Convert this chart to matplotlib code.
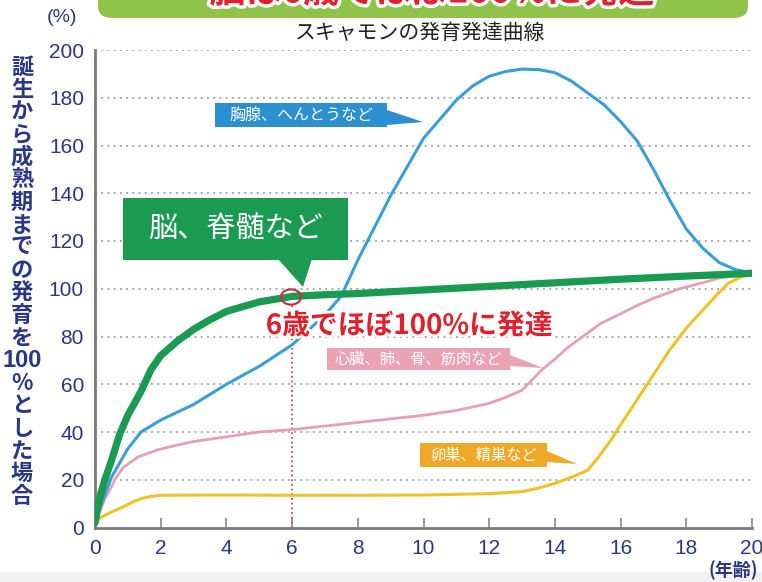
import matplotlib
matplotlib.use("Agg")
import matplotlib.pyplot as plt
from matplotlib import patches
import matplotlib.patheffects as pe

JP = ["Noto Sans CJK JP", "DejaVu Sans"]
NUM = ["Liberation Sans Narrow", "Liberation Sans", "DejaVu Sans"]
plt.rcParams["font.family"] = JP

# ---- data ----
brain_x = [0, 0.15, 0.3, 0.5, 0.75, 1, 1.4, 1.7, 2, 2.5, 3, 3.5, 4, 5, 6, 7, 8, 10, 12, 14, 16, 18, 20]
brain_y = [2, 13, 20, 28, 39, 47, 57, 66, 72, 78, 83, 87, 90.5, 94.5, 96.8, 97.5, 98, 99.5, 101, 102.5, 104, 105.3, 106.5]

thymus_x = [0, 0.2, 0.5, 1, 1.4, 2, 3, 4, 5, 6, 7, 7.5, 8, 9, 10, 11, 11.5, 12, 12.5, 13, 13.5,
            14, 14.5, 15, 15.5, 16, 16.5, 17, 17.5, 18, 18.5, 19, 19.5, 20]
thymus_y = [2, 10, 21, 33, 40, 45, 51.5, 60, 67.5, 76.5, 89, 97, 112, 139, 163, 179, 185, 189, 191, 192, 191.8,
            190.5, 187, 182, 177, 170, 162, 150, 137, 125, 117, 111, 108, 106.5]

general_x = [0, 0.15, 0.3, 0.5, 0.6, 0.85, 1.1, 1.3, 1.6, 1.9, 2.5, 3, 4, 5, 6, 7, 8, 9, 10, 11, 12, 12.5,
             13, 13.6, 14, 14.4, 15, 15.4, 16, 16.5, 17, 17.8, 18.5, 19, 20]
general_y = [2, 7, 12, 17, 20, 25, 27.5, 29.5, 31, 32.5, 34.5, 36, 38, 40, 41, 42.5, 44, 45.5, 47, 49, 52, 54.5,
             57.5, 66, 70.5, 75.5, 81.5, 85.5, 89.5, 93, 96, 100, 102.5, 104.5, 106.5]

repro_x = [0, 0.15, 0.5, 0.85, 1.2, 1.46, 1.7, 2, 4, 6, 8, 10, 12, 13, 13.5, 14, 14.5, 15, 15.3, 15.7,
           16, 16.5, 17, 17.5, 18, 18.5, 19, 19.3, 19.6, 20]
repro_y = [2, 4, 6.5, 8.6, 11, 12.3, 13, 13.5, 13.6, 13.5, 13.5, 13.6, 14.2, 15, 16.5, 18.5, 21, 24, 29, 36.5,
           43, 53.5, 64, 74.5, 83.5, 91, 98.5, 102.5, 104.5, 106.5]

x_ticks = [0, 2, 4, 6, 8, 10, 12, 14, 16, 18, 20]
y_ticks = [0, 20, 40, 60, 80, 100, 120, 140, 160, 180, 200]

title = "スキャモンの発育発達曲線"
banner = "脳は6歳でほぼ100%に発達"
ylabel_chars = ["誕", "生", "か", "ら", "成", "熟", "期", "ま", "で", "の", "発", "育", "を",
                "100", "%", "と", "し", "た", "場", "合"]

W, H = 762, 582
fig = plt.figure(figsize=(W / 100, H / 100), dpi=100)
fig.patch.set_facecolor("white")


def P(px, py):
    return (px / W, 1 - py / H)


ax = fig.add_axes([95 / W, 1 - 527.5 / H, (752 - 95) / W, (527.5 - 50) / H])
ax.set_xlim(0, 20)
ax.set_ylim(0, 200)

navy = "#2b3784"
grid_c = "#a8a8a8"
for yv in y_ticks[1:]:
    ax.axhline(yv, color=grid_c, lw=1.4, ls=(0, (1, 2.2)), zorder=1)

# red dotted guide at 6 years
ax.plot([6, 6], [0, 93], color="#c64a5a", lw=1.3, ls=(0, (1, 1.6)), zorder=2)

kw = dict(solid_capstyle="round", solid_joinstyle="round")
ax.plot(general_x, general_y, color="#e6a0b1", lw=2.0, zorder=3, **kw)
ax.plot(repro_x, repro_y, color="#efc12a", lw=2.2, zorder=3, **kw)
ax.plot(thymus_x, thymus_y, color="#3a9fd8", lw=2.2, zorder=4, **kw)
ax.plot(brain_x, brain_y, color="#1b9a52", lw=5.2, zorder=5, **kw)

for s in ["top", "right"]:
    ax.spines[s].set_visible(False)
for s in ["left", "bottom"]:
    ax.spines[s].set_color("#7a7a7a")
    ax.spines[s].set_linewidth(2)
ax.set_xticks(x_ticks)
ax.set_yticks(y_ticks)
ax.set_xticklabels([str(v) for v in x_ticks], family=NUM, fontsize=15, color=navy)
ax.set_yticklabels([str(v) for v in y_ticks], family=NUM, fontsize=15, color=navy)
ax.tick_params(axis="x", direction="in", length=7, width=1.2, color="#888888", pad=8)
ax.tick_params(axis="y", length=0, pad=8)
ax.get_xticklabels()[-1].set_horizontalalignment("center")

# ---- title and banner ----
fig.add_artist(patches.FancyBboxPatch(P(98, 18), (748 - 98) / W, 30 / H,
                                      boxstyle="round,pad=0,rounding_size=0.02",
                                      transform=fig.transFigure, facecolor="#8fc34a",
                                      edgecolor="none", zorder=1))
t = fig.text(*P(432, -8), banner, ha="center", va="center", fontsize=26, weight="bold",
             color="#e2202e", zorder=2)
t.set_path_effects([pe.withStroke(linewidth=5, foreground="white")])
fig.text(*P(420, 33), title, ha="center", va="center", fontsize=15, color="#222222")

# ---- axis unit labels ----
fig.text(*P(62, 18), "(%)", ha="center", va="center", fontsize=14, color=navy, family=NUM)
fig.text(*P(708, 570), "(年齢)", ha="left", va="center", fontsize=13, color=navy, weight="bold")

# vertical y label
y0, step = 67, 22.6
for i, ch in enumerate(ylabel_chars):
    fam = NUM if ch == "100" else JP
    fs = 17 if ch == "100" else 16
    fig.text(*P(22, y0 + i * step), ch, ha="center", va="center", fontsize=fs,
             color=navy, weight="bold", family=fam)


# ---- callout boxes ----
def callout(x0, y0_, x1, y1, tri, color, text, fs, weight="normal"):
    fig.add_artist(patches.Rectangle(P(x0, y1), (x1 - x0) / W, (y1 - y0_) / H,
                                     transform=fig.transFigure, facecolor=color,
                                     edgecolor="none", zorder=6))
    fig.add_artist(patches.Polygon([P(*p) for p in tri], closed=True,
                                   transform=fig.transFigure, facecolor=color,
                                   edgecolor="none", zorder=6))
    fig.text(*P((x0 + x1) / 2, (y0_ + y1) / 2), text, ha="center", va="center",
             fontsize=fs, color="white", weight=weight, zorder=7)


callout(215, 103, 387, 127, [(387, 110), (387, 125), (423, 122)], "#2b8fd0",
        "胸腺、へんとうなど", 11.5)
callout(123, 198, 348, 260, [(278, 259), (312, 259), (303, 287)], "#1b9a52",
        "脳、脊髄など", 21)
callout(327, 348, 510, 370, [(510, 355), (510, 366), (543, 368)], "#e9a3b2",
        "心臓、肺、骨、筋肉など", 11)
callout(420, 443, 547, 467, [(547, 451), (547, 462), (577, 464)], "#f0a828",
        "卵巣、精巣など", 11)

# red circle and text
fig.add_artist(patches.Circle(P(291, 297), 10 / W, transform=fig.transFigure,
                              facecolor="none", edgecolor="#c8304a", lw=1.6, zorder=8))
rt = fig.text(*P(409, 326), "6歳でほぼ100%に発達", ha="center", va="center",
              fontsize=20, weight="bold", color="#e0202c", zorder=9)
rt.set_path_effects([pe.withStroke(linewidth=4, foreground="white")])

# light band at the bottom
fig.add_artist(patches.Rectangle((0, 0), 1, 10 / H, transform=fig.transFigure,
                                 facecolor="#f1f1f1", edgecolor="none", zorder=0))

fig.savefig("out.png", dpi=100)
